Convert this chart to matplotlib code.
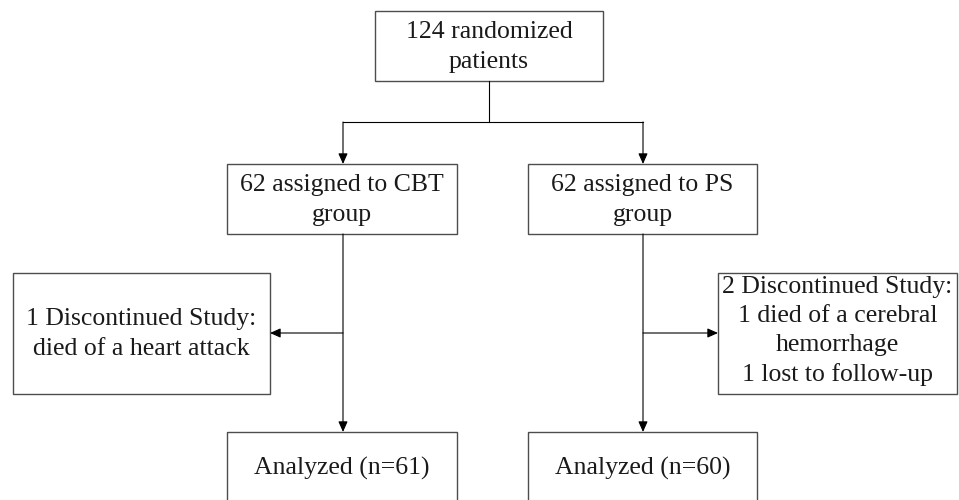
import matplotlib.pyplot as plt
from matplotlib.patches import Rectangle

# texts of the flow chart boxes
top_text = "124 randomized\npatients"
group_texts = ["62 assigned to CBT\ngroup", "62 assigned to PS\ngroup"]
dropout_texts = ["1 Discontinued Study:\ndied of a heart attack",
                 "2 Discontinued Study:\n1 died of a cerebral\nhemorrhage\n1 lost to follow-up"]
analyzed_n = [61, 60]

# layout in pixels (x0, y0, x1, y1), y pointing down
top_box = (375, 11, 603, 81)
group_boxes = [(227, 164, 457, 234), (528, 164, 757, 234)]
dropout_boxes = [(13, 273, 270, 394), (718, 273, 957, 394)]
analyzed_boxes = [(227, 432, 457, 512), (528, 432, 757, 512)]
branch_x = [343, 643]
split_y = 122
side_y = 333

fig = plt.figure(figsize=(9.59, 5.0), dpi=100)
ax = fig.add_axes([0, 0, 1, 1])
ax.set_xlim(0, 959)
ax.set_ylim(500, 0)
ax.axis('off')

font = dict(family='Liberation Serif', fontsize=18.5, color='#1a1a1a')


def box(b, text, ty=None):
    x0, y0, x1, y1 = b
    ax.add_patch(Rectangle((x0, y0), x1 - x0, y1 - y0, fill=False,
                           edgecolor='#4d4d4d', linewidth=1.0))
    if ty is None:
        ty = (y0 + y1) / 2
    ax.text((x0 + x1) / 2, ty, text, ha='center', va='center',
            multialignment='center', linespacing=1.42, **font)


def arrow(x0, y0, x1, y1):
    ax.annotate('', xy=(x1, y1), xytext=(x0, y0),
                arrowprops=dict(arrowstyle='-|>,head_length=0.45,head_width=0.2',
                                mutation_scale=14, color='black', lw=0.8,
                                shrinkA=0, shrinkB=0))


box(top_box, top_text, ty=47)
for i in range(2):
    box(group_boxes[i], group_texts[i], ty=200)
    box(dropout_boxes[i], dropout_texts[i], ty=334 if i == 0 else 331)
    box(analyzed_boxes[i], f"Analyzed (n={analyzed_n[i]})", ty=468)

# connectors
mid_x = (top_box[0] + top_box[2]) / 2
ax.plot([mid_x, mid_x], [top_box[3], split_y], color='black', lw=0.8)
ax.plot([branch_x[0], branch_x[1]], [split_y, split_y], color='black', lw=0.8)
for i, bx in enumerate(branch_x):
    arrow(bx, split_y, bx, group_boxes[i][1])
    arrow(bx, group_boxes[i][3], bx, analyzed_boxes[i][1])
arrow(branch_x[0], side_y, dropout_boxes[0][2], side_y)
arrow(branch_x[1], side_y, dropout_boxes[1][0], side_y)

plt.savefig('out.png', dpi=100)
